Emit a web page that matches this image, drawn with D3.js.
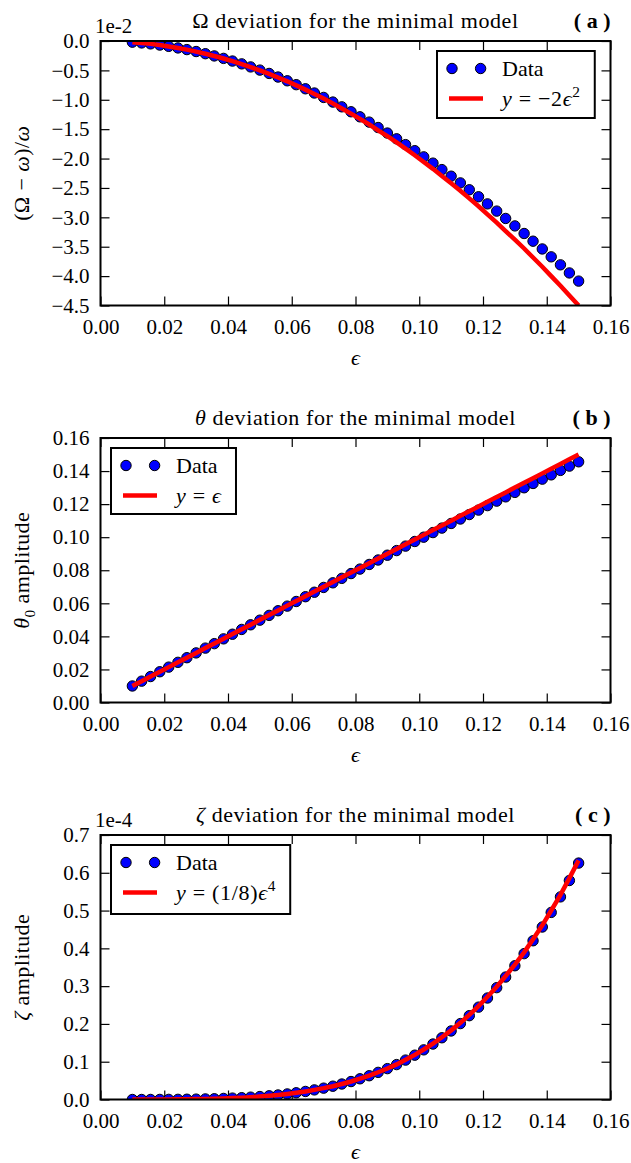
<!DOCTYPE html>
<html>
<head>
<meta charset="utf-8">
<script src="https://cdn.jsdelivr.net/npm/d3@7"></script>
<style>
  body { margin: 0; background: #fff; }
  text { font-family: "Liberation Serif", "DejaVu Serif", serif; fill: #000; }
</style>
</head>
<body>
<svg id="canvas" width="631" height="1163"></svg>
<script>
// epsilon values (50 samples, 0.01 .. 0.15)
var eps = [0.0100, 0.0129, 0.0157, 0.0186, 0.0214, 0.0243, 0.0271, 0.0300, 0.0329, 0.0357,
  0.0386, 0.0414, 0.0443, 0.0471, 0.0500, 0.0529, 0.0557, 0.0586, 0.0614, 0.0643,
  0.0671, 0.0700, 0.0729, 0.0757, 0.0786, 0.0814, 0.0843, 0.0871, 0.0900, 0.0929,
  0.0957, 0.0986, 0.1014, 0.1043, 0.1071, 0.1100, 0.1129, 0.1157, 0.1186, 0.1214,
  0.1243, 0.1271, 0.1300, 0.1329, 0.1357, 0.1386, 0.1414, 0.1443, 0.1471, 0.1500];

// (a) Omega deviation, units of 1e-2
var omegaData = [-0.020, -0.033, -0.049, -0.069, -0.091, -0.118, -0.146, -0.179, -0.216, -0.254,
  -0.296, -0.341, -0.389, -0.441, -0.495, -0.552, -0.613, -0.677, -0.743, -0.813,
  -0.885, -0.960, -1.039, -1.120, -1.204, -1.290, -1.380, -1.472, -1.566, -1.664,
  -1.763, -1.866, -1.971, -2.078, -2.188, -2.300, -2.414, -2.531, -2.650, -2.771,
  -2.894, -3.019, -3.146, -3.275, -3.406, -3.538, -3.672, -3.808, -3.946, -4.085];
var omegaFit = [-0.020, -0.033, -0.049, -0.069, -0.092, -0.118, -0.147, -0.180, -0.217, -0.255,
  -0.298, -0.343, -0.392, -0.444, -0.500, -0.559, -0.621, -0.686, -0.755, -0.827,
  -0.902, -0.980, -1.062, -1.147, -1.235, -1.326, -1.421, -1.519, -1.620, -1.725,
  -1.832, -1.943, -2.058, -2.175, -2.296, -2.420, -2.547, -2.678, -2.812, -2.949,
  -3.089, -3.233, -3.380, -3.530, -3.684, -3.840, -4.000, -4.164, -4.330, -4.500];

// (b) theta_0 amplitude
var thetaData = [0.0100, 0.0129, 0.0157, 0.0186, 0.0214, 0.0243, 0.0271, 0.0300, 0.0329, 0.0356,
  0.0385, 0.0413, 0.0442, 0.0470, 0.0498, 0.0527, 0.0555, 0.0583, 0.0611, 0.0640,
  0.0667, 0.0696, 0.0724, 0.0751, 0.0780, 0.0807, 0.0835, 0.0862, 0.0891, 0.0919,
  0.0946, 0.0974, 0.1000, 0.1028, 0.1055, 0.1083, 0.1110, 0.1137, 0.1164, 0.1191,
  0.1218, 0.1244, 0.1271, 0.1299, 0.1325, 0.1351, 0.1377, 0.1404, 0.1430, 0.1456];
var thetaFit = [0.0100, 0.0129, 0.0157, 0.0186, 0.0214, 0.0243, 0.0271, 0.0300, 0.0329, 0.0357,
  0.0386, 0.0414, 0.0443, 0.0471, 0.0500, 0.0529, 0.0557, 0.0586, 0.0614, 0.0643,
  0.0671, 0.0700, 0.0729, 0.0757, 0.0786, 0.0814, 0.0843, 0.0871, 0.0900, 0.0929,
  0.0957, 0.0986, 0.1014, 0.1043, 0.1071, 0.1100, 0.1129, 0.1157, 0.1186, 0.1214,
  0.1243, 0.1271, 0.1300, 0.1329, 0.1357, 0.1386, 0.1414, 0.1443, 0.1471, 0.1500];

// (c) zeta amplitude, units of 1e-4
var zetaData = [0.0000, 0.0000, 0.0001, 0.0002, 0.0003, 0.0004, 0.0007, 0.0010, 0.0015, 0.0020,
  0.0028, 0.0037, 0.0048, 0.0062, 0.0078, 0.0098, 0.0120, 0.0147, 0.0178, 0.0213,
  0.0254, 0.0300, 0.0352, 0.0410, 0.0475, 0.0548, 0.0629, 0.0718, 0.0817, 0.0924,
  0.1043, 0.1173, 0.1314, 0.1468, 0.1634, 0.1814, 0.2009, 0.2218, 0.2444, 0.2686,
  0.2960, 0.3241, 0.3540, 0.3860, 0.4201, 0.4565, 0.4951, 0.5362, 0.5796, 0.6257];
var zetaFit = [0.0000, 0.0000, 0.0001, 0.0002, 0.0003, 0.0004, 0.0007, 0.0010, 0.0015, 0.0020,
  0.0028, 0.0037, 0.0048, 0.0062, 0.0078, 0.0098, 0.0120, 0.0147, 0.0178, 0.0214,
  0.0254, 0.0300, 0.0352, 0.0411, 0.0476, 0.0550, 0.0631, 0.0721, 0.0820, 0.0929,
  0.1049, 0.1180, 0.1323, 0.1479, 0.1647, 0.1830, 0.2028, 0.2241, 0.2471, 0.2718,
  0.2983, 0.3267, 0.3570, 0.3894, 0.4240, 0.4609, 0.5001, 0.5418, 0.5860, 0.6328];

var xTicks = [0.00, 0.02, 0.04, 0.06, 0.08, 0.10, 0.12, 0.14, 0.16];
var omegaTicks = [-4.5, -4.0, -3.5, -3.0, -2.5, -2.0, -1.5, -1.0, -0.5, 0.0];
var thetaTicks = [0.00, 0.02, 0.04, 0.06, 0.08, 0.10, 0.12, 0.14, 0.16];
var zetaTicks = [0.0, 0.1, 0.2, 0.3, 0.4, 0.5, 0.6, 0.7];

var svg = d3.select("#canvas");
svg.append("rect").attr("width", 631).attr("height", 1163).attr("fill", "#fff");

var FS = 21, TS = 22;
var left = 100.5, right = 610.5, plotH = 264.5;

// write a list of styled pieces into a text element
function rich(sel, parts, size) {
  var shift = 0;
  parts.forEach(function(p) {
    var want = p.sup ? -size * 0.42 : (p.sub ? size * 0.28 : 0);
    var ts = sel.append("tspan").text(p.t).attr("dy", want - shift);
    shift = want;
    if (p.i) ts.attr("font-style", "italic");
    if (p.b) ts.attr("font-weight", "bold");
    if (p.sup || p.sub) ts.attr("font-size", size * 0.7);
  });
}

function minus(s) { return s.replace("-", "\u2212"); }

function panel(cfg) {
  var top = cfg.top, bottom = top + plotH;
  var x = d3.scaleLinear().domain([0, 0.16]).range([left, right]);
  var y = d3.scaleLinear().domain(cfg.yDomain).range([bottom, top]);
  var g = svg.append("g");

  // ticks inward on all four sides
  var xb = g.append("g").attr("transform", "translate(0," + bottom + ")")
    .call(d3.axisBottom(x).tickValues(xTicks).tickSize(-9).tickFormat(d3.format(".2f")));
  g.append("g").attr("transform", "translate(0," + top + ")")
    .call(d3.axisTop(x).tickValues(xTicks).tickSize(-9).tickFormat(""));
  var yl = g.append("g").attr("transform", "translate(" + left + ",0)")
    .call(d3.axisLeft(y).tickValues(cfg.yTicks).tickSize(-9)
      .tickFormat(function(d) { return minus(d3.format(cfg.yFmt)(d)); }));
  g.append("g").attr("transform", "translate(" + right + ",0)")
    .call(d3.axisRight(y).tickValues(cfg.yTicks).tickSize(-9).tickFormat(""));
  g.selectAll(".domain").remove();
  g.selectAll(".tick line").attr("stroke", "#000").attr("stroke-width", 1.2);
  g.selectAll(".tick text").attr("font-size", FS).attr("font-family", "Liberation Serif");
  xb.selectAll(".tick text").attr("y", 14);
  yl.selectAll(".tick text").attr("x", -11);

  // data points then fit line
  var pts = eps.map(function(e, i) { return [e, cfg.data[i]]; });
  var fit = eps.map(function(e, i) { return [e, cfg.fit[i]]; });
  var clip = "clip" + cfg.letter;
  svg.append("clipPath").attr("id", clip).append("rect")
    .attr("x", left).attr("y", top).attr("width", right - left).attr("height", plotH);
  var plot = svg.append("g").attr("clip-path", "url(#" + clip + ")");
  plot.selectAll("circle").data(pts).enter().append("circle")
    .attr("cx", function(d) { return x(d[0]); })
    .attr("cy", function(d) { return y(d[1]); })
    .attr("r", 5.2)
    .attr("fill", "#0000ff").attr("stroke", "#000").attr("stroke-width", 1);
  plot.append("path").datum(fit)
    .attr("d", d3.line().x(function(d) { return x(d[0]); }).y(function(d) { return y(d[1]); }))
    .attr("fill", "none").attr("stroke", "#ff0000").attr("stroke-width", 4.5);

  // frame
  svg.append("rect").attr("x", left).attr("y", top).attr("width", right - left).attr("height", plotH)
    .attr("fill", "none").attr("stroke", "#000").attr("stroke-width", 2);

  // title and panel letter
  rich(svg.append("text").attr("x", (left + right) / 2).attr("y", top - 13)
    .attr("text-anchor", "middle").attr("font-size", TS).attr("letter-spacing", 0.6), cfg.title, TS);
  svg.append("text").attr("x", right).attr("y", top - 13).attr("text-anchor", "end")
    .attr("font-size", TS).attr("font-weight", "bold").text("( " + cfg.letter + " )");
  if (cfg.scaleLabel) {
    svg.append("text").attr("x", 95).attr("y", top - 8).attr("font-size", FS).text(cfg.scaleLabel);
  }

  // axis labels
  rich(svg.append("text").attr("x", (left + right) / 2).attr("y", bottom + 59)
    .attr("text-anchor", "middle").attr("font-size", TS), [{ t: "\u03f5", i: true }], TS);
  rich(svg.append("text").attr("transform", "translate(29," + (top + plotH / 2) + ") rotate(-90)")
    .attr("text-anchor", "middle").attr("font-size", TS).attr("letter-spacing", 0.4), cfg.ylabel, TS);

  // legend
  var L = cfg.legend;
  var lg = svg.append("g").attr("transform", "translate(" + L.x + "," + L.y + ")");
  var box = lg.append("rect").attr("height", L.h).attr("fill", "#fff")
    .attr("stroke", "#000").attr("stroke-width", 2);
  [15, 43.6].forEach(function(cx) {
    lg.append("circle").attr("cx", cx).attr("cy", 17.5).attr("r", 5.2)
      .attr("fill", "#0000ff").attr("stroke", "#000").attr("stroke-width", 1);
  });
  lg.append("line").attr("x1", 12).attr("x2", 46).attr("y1", 47.5).attr("y2", 47.5)
    .attr("stroke", "#ff0000").attr("stroke-width", 4.5);
  var t1 = lg.append("text").attr("x", 65).attr("y", 25).attr("font-size", TS).text("Data");
  var t2 = lg.append("text").attr("x", 65).attr("y", 55).attr("font-size", TS).attr("letter-spacing", 0.7);
  rich(t2, cfg.formula, TS);
  var w = Math.max(t1.node().getBBox().width, t2.node().getBBox().width);
  box.attr("width", 65 + w + 12);
}

panel({
  letter: "a", top: 41, yDomain: [-4.5, 0], yTicks: omegaTicks, yFmt: ".1f",
  data: omegaData, fit: omegaFit, scaleLabel: "1e-2",
  title: [{ t: "\u03a9 deviation for the minimal model" }],
  ylabel: [{ t: "(\u03a9 \u2212 " }, { t: "\u03c9", i: true }, { t: ")/" }, { t: "\u03c9", i: true }],
  formula: [{ t: "y", i: true }, { t: " = \u22122" }, { t: "\u03f5", i: true }, { t: "2", sup: true }],
  legend: { x: 437, y: 51, h: 67 }
});

panel({
  letter: "b", top: 438, yDomain: [0, 0.16], yTicks: thetaTicks, yFmt: ".2f",
  data: thetaData, fit: thetaFit,
  title: [{ t: "\u03b8", i: true }, { t: " deviation for the minimal model" }],
  ylabel: [{ t: "\u03b8", i: true }, { t: "0", sub: true }, { t: " amplitude" }],
  formula: [{ t: "y", i: true }, { t: " = " }, { t: "\u03f5", i: true }],
  legend: { x: 111, y: 448, h: 66 }
});

panel({
  letter: "c", top: 835, yDomain: [0, 0.7], yTicks: zetaTicks, yFmt: ".1f",
  data: zetaData, fit: zetaFit, scaleLabel: "1e-4",
  title: [{ t: "\u03b6", i: true }, { t: " deviation for the minimal model" }],
  ylabel: [{ t: "\u03b6", i: true }, { t: " amplitude" }],
  formula: [{ t: "y", i: true }, { t: " = (1/8)" }, { t: "\u03f5", i: true }, { t: "4", sup: true }],
  legend: { x: 111, y: 845, h: 69 }
});
</script>
</body>
</html>
